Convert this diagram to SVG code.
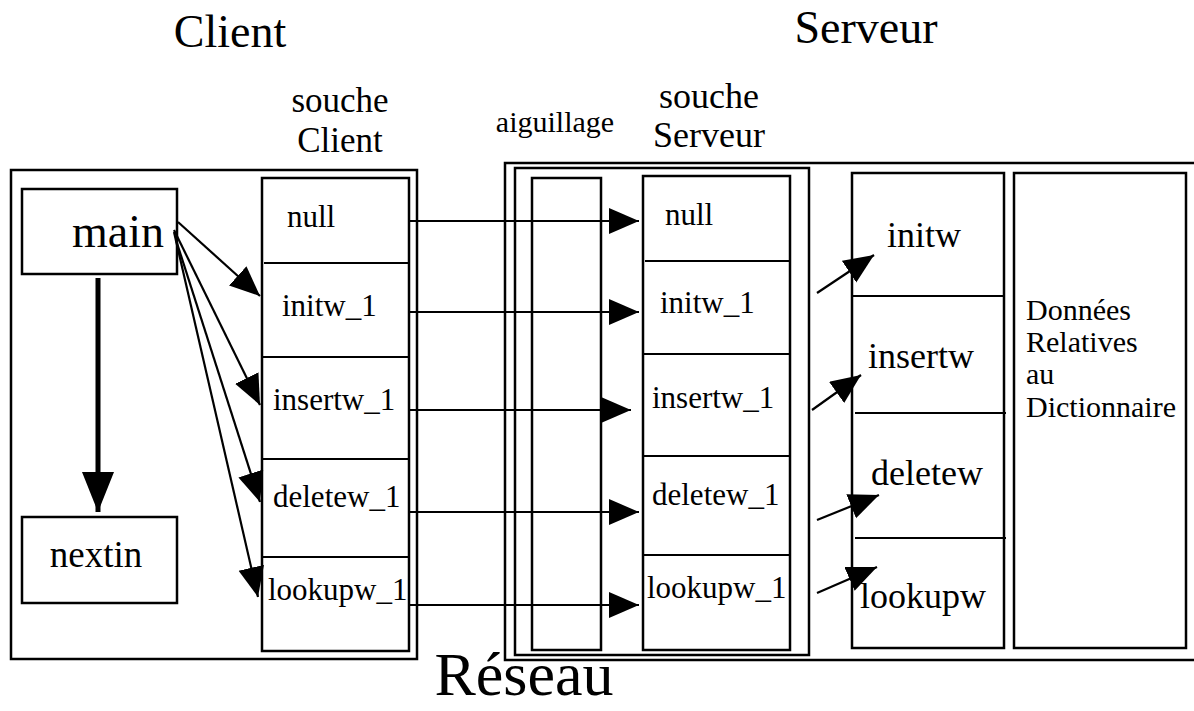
<svg xmlns="http://www.w3.org/2000/svg" width="1194" height="711" viewBox="0 0 1194 711">
<style>
.box{fill:none;stroke:#000;stroke-width:2.5}
.ln{fill:none;stroke:#000;stroke-width:2.2}
.cn{fill:none;stroke:#000;stroke-width:2.2}
.t{font-family:"Liberation Serif","Times New Roman",serif;fill:#000}
</style>
<defs>
<marker id="ah" markerUnits="userSpaceOnUse" markerWidth="32" markerHeight="28" refX="30" refY="13" orient="auto">
<path d="M0,0 L30,13 L0,26 z" fill="#000"/>
</marker>
<marker id="ahBig" markerUnits="userSpaceOnUse" markerWidth="42" markerHeight="34" refX="40" refY="16" orient="auto">
<path d="M0,0 L40,16 L0,32 z" fill="#000"/>
</marker>
</defs>
<rect width="1194" height="711" fill="#fff"/>

<g id="titles">
<text class="t" x="230" y="47" font-size="46" text-anchor="middle">Client</text>
<text class="t" x="866" y="43" font-size="46" text-anchor="middle">Serveur</text>
<text class="t" x="524" y="695" font-size="62" text-anchor="middle">Réseau</text>
</g>

<g id="client">
<rect class="box" x="11" y="170" width="406" height="489"/>
</g>
<g id="main">
<rect class="box" x="22" y="189" width="155" height="85"/>
<text class="t" x="118" y="247" font-size="46" text-anchor="middle">main</text>
</g>
<g id="nextin">
<rect class="box" x="22" y="517" width="155" height="86"/>
<text class="t" x="96" y="567" font-size="37" text-anchor="middle">nextin</text>
</g>
<g id="souche-client">
<text class="t" x="340" y="112" font-size="35" text-anchor="middle">souche</text>
<text class="t" x="340" y="152" font-size="35" text-anchor="middle">Client</text>
<rect class="box" x="262" y="178" width="147" height="473"/>
<line class="ln" x1="264" y1="263" x2="409" y2="263"/>
<line class="ln" x1="262" y1="357" x2="409" y2="357"/>
<line class="ln" x1="262" y1="459" x2="409" y2="459"/>
<line class="ln" x1="262" y1="557" x2="409" y2="557"/>
<text class="t" x="287" y="227" font-size="31">null</text>
<text class="t" x="282" y="316" font-size="31">initw_1</text>
<text class="t" x="273" y="410" font-size="31">insertw_1</text>
<text class="t" x="273" y="507" font-size="31">deletew_1</text>
<text class="t" x="268" y="600" font-size="31">lookupw_1</text>
</g>

<g id="serveur">
<rect class="box" x="505" y="163" width="700" height="497"/>
<rect class="box" x="515" y="168" width="294" height="487"/>
</g>
<g id="aiguillage">
<text class="t" x="555" y="132" font-size="30" text-anchor="middle">aiguillage</text>
<rect class="box" x="532" y="178" width="69" height="472"/>
</g>
<g id="souche-serveur">
<text class="t" x="709" y="108" font-size="36" text-anchor="middle">souche</text>
<text class="t" x="709" y="147" font-size="36" text-anchor="middle">Serveur</text>
<rect class="box" x="643" y="176" width="147" height="474"/>
<line class="ln" x1="645" y1="261" x2="790" y2="261"/>
<line class="ln" x1="643" y1="354" x2="790" y2="354"/>
<line class="ln" x1="643" y1="456" x2="790" y2="456"/>
<line class="ln" x1="643" y1="555" x2="790" y2="555"/>
<text class="t" x="665" y="225" font-size="31">null</text>
<text class="t" x="660" y="313" font-size="31">initw_1</text>
<text class="t" x="652" y="408" font-size="31">insertw_1</text>
<text class="t" x="652" y="505" font-size="31">deletew_1</text>
<text class="t" x="647" y="598" font-size="31">lookupw_1</text>
</g>
<g id="fonctions">
<rect class="box" x="852" y="173" width="152" height="475"/>
<line class="ln" x1="852" y1="296" x2="1004" y2="296"/>
<line class="ln" x1="855" y1="413" x2="1006" y2="413"/>
<line class="ln" x1="855" y1="538" x2="1006" y2="538"/>
<text class="t" x="887" y="247" font-size="36">initw</text>
<text class="t" x="868" y="368" font-size="36">insertw</text>
<text class="t" x="871" y="485" font-size="36">deletew</text>
<text class="t" x="860" y="608" font-size="36">lookupw</text>
</g>
<g id="donnees">
<rect class="box" x="1014" y="173" width="172" height="475"/>
<text class="t" x="1026" y="320" font-size="30">Données</text>
<text class="t" x="1026" y="352" font-size="30">Relatives</text>
<text class="t" x="1026" y="384" font-size="30">au</text>
<text class="t" x="1026" y="417" font-size="30">Dictionnaire</text>
</g>

<g id="connecteurs">
<line x1="98" y1="278" x2="98" y2="512" stroke="#000" stroke-width="5" marker-end="url(#ahBig)"/>
<line class="cn" x1="178" y1="222" x2="260" y2="296" marker-end="url(#ah)"/>
<line class="cn" x1="174" y1="230" x2="260" y2="405" marker-end="url(#ah)"/>
<line class="cn" x1="176" y1="240" x2="260" y2="502" marker-end="url(#ah)"/>
<line class="cn" x1="174" y1="232" x2="258" y2="597" marker-end="url(#ah)"/>
<line class="cn" x1="409" y1="221" x2="639" y2="221" marker-end="url(#ah)"/>
<line class="cn" x1="409" y1="312" x2="639" y2="312" marker-end="url(#ah)"/>
<line class="cn" x1="409" y1="410" x2="631" y2="410" marker-end="url(#ah)"/>
<line class="cn" x1="409" y1="512" x2="639" y2="512" marker-end="url(#ah)"/>
<line class="cn" x1="409" y1="605" x2="639" y2="605" marker-end="url(#ah)"/>
<line class="cn" x1="817" y1="293" x2="874" y2="255" marker-end="url(#ah)"/>
<line class="cn" x1="812" y1="410" x2="861" y2="375" marker-end="url(#ah)"/>
<line class="cn" x1="817" y1="520" x2="879" y2="495" marker-end="url(#ah)"/>
<line class="cn" x1="817" y1="593" x2="877" y2="567" marker-end="url(#ah)"/>
</g>
</svg>
